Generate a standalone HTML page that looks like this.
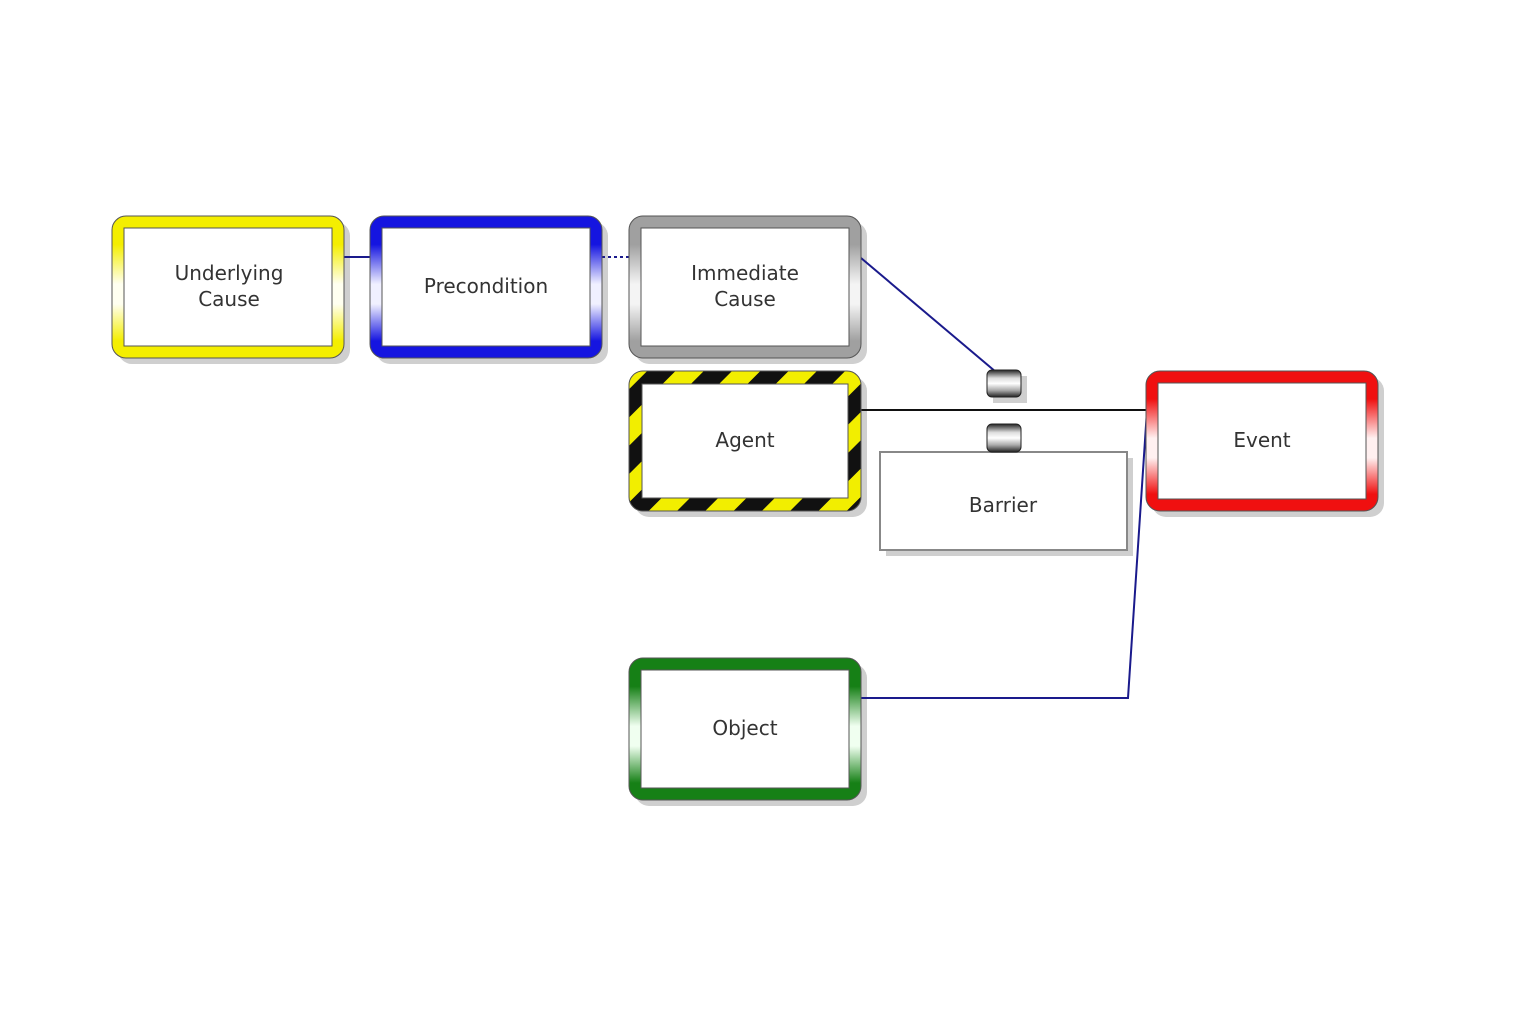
<!DOCTYPE html>
<html><head><meta charset="utf-8"><style>
html,body{margin:0;padding:0;background:#fff;}
svg{display:block;}
text{font-family:"DejaVu Sans","Liberation Sans",sans-serif;font-size:20px;fill:#333;text-anchor:middle;}
</style></head><body>
<svg width="1524" height="1024" viewBox="0 0 1524 1024" xmlns="http://www.w3.org/2000/svg">
<defs>
<linearGradient id="gy" x1="0" y1="0" x2="0" y2="1"><stop offset="0" stop-color="#f4ee00"/><stop offset="0.2" stop-color="#f4ee00"/><stop offset="0.48" stop-color="#fffff0"/><stop offset="0.62" stop-color="#fffff0"/><stop offset="0.88" stop-color="#f4ee00"/></linearGradient>
<linearGradient id="gb" x1="0" y1="0" x2="0" y2="1"><stop offset="0" stop-color="#1515e0"/><stop offset="0.2" stop-color="#1515e0"/><stop offset="0.48" stop-color="#f0f0ff"/><stop offset="0.62" stop-color="#f0f0ff"/><stop offset="0.88" stop-color="#1515e0"/></linearGradient>
<linearGradient id="gg" x1="0" y1="0" x2="0" y2="1"><stop offset="0" stop-color="#a0a0a0"/><stop offset="0.2" stop-color="#a0a0a0"/><stop offset="0.48" stop-color="#f4f4f4"/><stop offset="0.62" stop-color="#f4f4f4"/><stop offset="0.88" stop-color="#a0a0a0"/></linearGradient>
<linearGradient id="gr" x1="0" y1="0" x2="0" y2="1"><stop offset="0" stop-color="#f01010"/><stop offset="0.2" stop-color="#f01010"/><stop offset="0.48" stop-color="#fff0f0"/><stop offset="0.62" stop-color="#fff0f0"/><stop offset="0.88" stop-color="#f01010"/></linearGradient>
<linearGradient id="gn" x1="0" y1="0" x2="0" y2="1"><stop offset="0" stop-color="#168016"/><stop offset="0.2" stop-color="#168016"/><stop offset="0.48" stop-color="#f0fff0"/><stop offset="0.62" stop-color="#f0fff0"/><stop offset="0.88" stop-color="#168016"/></linearGradient>
<pattern id="stripe" width="40" height="40" patternUnits="userSpaceOnUse" patternTransform="rotate(45)">
<rect width="20" height="40" fill="#111"/><rect x="20" width="20" height="40" fill="#f2ee00"/></pattern>
<linearGradient id="cyl" x1="0" y1="0" x2="0" y2="1"><stop offset="0" stop-color="#222"/><stop offset="0.3" stop-color="#ddd"/><stop offset="0.5" stop-color="#fff"/><stop offset="0.75" stop-color="#aaa"/><stop offset="1" stop-color="#222"/></linearGradient>
</defs>

<!-- shadows -->
<g fill="#cfcfcf">
<rect x="118" y="222" width="232" height="142" rx="14"/>
<rect x="376" y="222" width="232" height="142" rx="14"/>
<rect x="635" y="222" width="232" height="142" rx="14"/>
<rect x="635" y="377" width="232" height="140" rx="14"/>
<rect x="1152" y="377" width="232" height="140" rx="14"/>
<rect x="635" y="664" width="232" height="142" rx="14"/>
<rect x="886" y="458" width="247" height="98"/>
<rect x="993" y="376" width="34" height="27"/>
</g>

<!-- connectors -->
<g stroke="#1a1a8c" stroke-width="2" fill="none">
<line x1="344" y1="257" x2="371" y2="257"/>
<line x1="602" y1="257" x2="630" y2="257" stroke-dasharray="3,3"/>
<line x1="861" y1="258" x2="996" y2="372"/>
<line x1="861" y1="410" x2="1147" y2="410" stroke="#111"/>
<polyline points="861,698 1128,698 1147,410"/>
</g>

<!-- boxes -->
<g stroke="#555" stroke-width="1">
<rect x="112" y="216" width="232" height="142" rx="14" fill="url(#gy)"/>
<rect x="124" y="228" width="208" height="118" fill="#fff"/>
<rect x="370" y="216" width="232" height="142" rx="14" fill="url(#gb)"/>
<rect x="382" y="228" width="208" height="118" fill="#fff"/>
<rect x="629" y="216" width="232" height="142" rx="14" fill="url(#gg)"/>
<rect x="641" y="228" width="208" height="118" fill="#fff"/>
<rect x="629" y="371" width="232" height="140" rx="14" fill="url(#stripe)"/>
<rect x="642" y="384" width="206" height="114" fill="#fff"/>
<rect x="1146" y="371" width="232" height="140" rx="14" fill="url(#gr)"/>
<rect x="1158" y="383" width="208" height="116" fill="#fff"/>
<rect x="629" y="658" width="232" height="142" rx="14" fill="url(#gn)"/>
<rect x="641" y="670" width="208" height="118" fill="#fff"/>
<rect x="880" y="452" width="247" height="98" fill="#fff" stroke="#888" stroke-width="2"/>
</g>

<!-- barrier connectors -->
<rect x="987" y="370" width="34" height="27" rx="5" fill="url(#cyl)" stroke="#222"/>
<rect x="987" y="424" width="34" height="28" rx="5" fill="url(#cyl)" stroke="#222"/>

<text x="229" y="280">Underlying</text>
<text x="229" y="306">Cause</text>
<text x="486" y="293">Precondition</text>
<text x="745" y="280">Immediate</text>
<text x="745" y="306">Cause</text>
<text x="745" y="447">Agent</text>
<text x="1262" y="447">Event</text>
<text x="1003" y="512">Barrier</text>
<text x="745" y="735">Object</text>
</svg>
</body></html>
